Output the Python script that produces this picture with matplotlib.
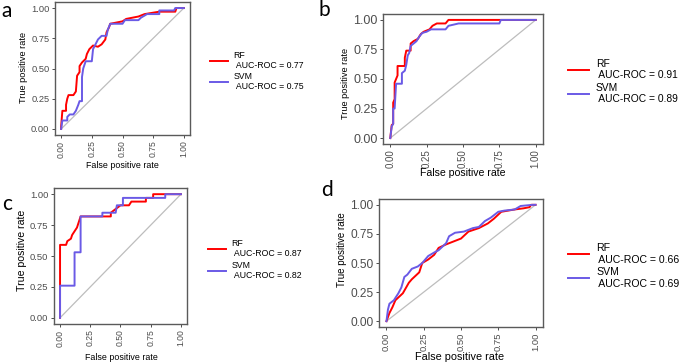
import matplotlib
matplotlib.use("Agg")
import matplotlib.pyplot as plt

plt.rcParams['font.family'] = ['Liberation Sans', 'DejaVu Sans']

RED = '#ff0000'
BLUE = '#6a5ae6'

# ROC curve points (fpr, tpr)
a_rf_fpr = [0, 0.0, 0.01, 0.04, 0.04, 0.05, 0.06, 0.10, 0.12, 0.13, 0.15, 0.15, 0.17, 0.20, 0.21, 0.23, 0.26, 0.30, 0.33, 0.36, 0.37, 0.39, 0.40, 0.50, 0.53, 0.63, 0.68, 0.80, 0.93, 0.94, 1.0]
a_rf_tpr = [0, 0.02, 0.15, 0.15, 0.20, 0.25, 0.28, 0.28, 0.31, 0.44, 0.47, 0.52, 0.55, 0.58, 0.62, 0.66, 0.69, 0.68, 0.70, 0.74, 0.80, 0.84, 0.87, 0.89, 0.91, 0.93, 0.95, 0.97, 0.97, 1.0, 1.0]
a_svm_fpr = [0, 0.01, 0.05, 0.05, 0.07, 0.10, 0.12, 0.14, 0.15, 0.17, 0.17, 0.18, 0.20, 0.25, 0.26, 0.28, 0.30, 0.33, 0.37, 0.38, 0.40, 0.50, 0.52, 0.63, 0.65, 0.70, 0.80, 0.80, 0.92, 0.93, 1.0]
a_svm_tpr = [0, 0.07, 0.07, 0.10, 0.12, 0.12, 0.15, 0.20, 0.23, 0.23, 0.43, 0.50, 0.56, 0.56, 0.66, 0.70, 0.74, 0.77, 0.77, 0.82, 0.87, 0.87, 0.90, 0.90, 0.92, 0.95, 0.95, 0.98, 0.98, 1.0, 1.0]

b_rf_fpr = [0, 0.01, 0.02, 0.02, 0.03, 0.03, 0.05, 0.05, 0.10, 0.10, 0.11, 0.14, 0.14, 0.16, 0.19, 0.21, 0.23, 0.27, 0.29, 0.32, 0.38, 0.40, 1.0]
b_rf_tpr = [0, 0.11, 0.12, 0.30, 0.33, 0.47, 0.53, 0.61, 0.61, 0.68, 0.74, 0.74, 0.80, 0.82, 0.84, 0.88, 0.90, 0.92, 0.95, 0.97, 0.97, 1.0, 1.0]
b_svm_fpr = [0, 0.01, 0.02, 0.02, 0.03, 0.04, 0.08, 0.08, 0.10, 0.11, 0.12, 0.13, 0.14, 0.16, 0.18, 0.20, 0.22, 0.25, 0.28, 0.38, 0.40, 0.47, 0.75, 0.76, 1.0]
b_svm_tpr = [0, 0.10, 0.12, 0.25, 0.25, 0.46, 0.46, 0.55, 0.57, 0.62, 0.70, 0.72, 0.78, 0.80, 0.82, 0.86, 0.89, 0.90, 0.92, 0.92, 0.95, 0.97, 0.97, 1.0, 1.0]

c_rf_fpr = [0, 0, 0.05, 0.06, 0.09, 0.10, 0.12, 0.14, 0.17, 0.37, 0.42, 0.42, 0.46, 0.50, 0.57, 0.59, 0.71, 0.71, 0.77, 0.77, 1.0]
c_rf_tpr = [0, 0.59, 0.59, 0.62, 0.64, 0.67, 0.70, 0.73, 0.82, 0.82, 0.82, 0.85, 0.88, 0.91, 0.91, 0.94, 0.94, 0.97, 0.97, 1.0, 1.0]
c_svm_fpr = [0, 0, 0.12, 0.12, 0.17, 0.17, 0.35, 0.35, 0.46, 0.47, 0.52, 0.52, 0.87, 0.87, 1.0]
c_svm_tpr = [0, 0.26, 0.26, 0.53, 0.53, 0.82, 0.82, 0.85, 0.85, 0.91, 0.91, 0.97, 0.97, 1.0, 1.0]

d_rf_fpr = [0, 0.02, 0.04, 0.06, 0.11, 0.15, 0.17, 0.22, 0.24, 0.28, 0.32, 0.35, 0.40, 0.44, 0.50, 0.55, 0.62, 0.68, 0.72, 0.77, 0.86, 0.92, 0.96, 0.97, 1.0]
d_rf_tpr = [0, 0.07, 0.12, 0.18, 0.24, 0.33, 0.36, 0.42, 0.50, 0.53, 0.57, 0.63, 0.66, 0.68, 0.71, 0.77, 0.80, 0.84, 0.88, 0.94, 0.96, 0.97, 0.98, 1.0, 1.0]
d_svm_fpr = [0, 0.01, 0.02, 0.05, 0.08, 0.10, 0.12, 0.14, 0.17, 0.21, 0.24, 0.28, 0.32, 0.35, 0.40, 0.42, 0.46, 0.52, 0.58, 0.62, 0.66, 0.70, 0.75, 0.79, 0.86, 0.90, 0.98, 1.0]
d_svm_tpr = [0, 0.10, 0.15, 0.18, 0.24, 0.29, 0.38, 0.40, 0.45, 0.47, 0.50, 0.56, 0.59, 0.61, 0.67, 0.73, 0.76, 0.77, 0.80, 0.81, 0.86, 0.89, 0.94, 0.95, 0.96, 0.99, 1.0, 1.0]

auc_rf = [0.77, 0.91, 0.87, 0.66]
auc_svm = [0.75, 0.89, 0.82, 0.69]
panel_names = ['a', 'b', 'c', 'd']
ticks = [0, 0.25, 0.5, 0.75, 1.0]
tick_labels = ['0.00', '0.25', '0.50', '0.75', '1.00']

W, H = 685, 364
fig = plt.figure(figsize=(6.85, 3.64), dpi=100)

def px_axes(l, t, r, b):
    return fig.add_axes([l / W, 1 - b / H, (r - l) / W, (b - t) / H])

# layout per panel: axes box (l, t, r, b) in px, font sizes, label centres, legend anchor
panels = [
    dict(box=(55, 2, 190, 135), ytk=6.7, xtk=6.2, yl=6.6, xl=6.4, ylc=(23, 67), xlc=(122, 166),
         leg=(210, 71), legfs=6.3, letter=(7, 11)),
    dict(box=(383, 14, 543, 144), ytk=9.0, xtk=7.0, yl=6.6, xl=7.6, ylc=(345, 83), xlc=(463, 173),
         leg=(568, 81.5), legfs=7.4, letter=(324, 10)),
    dict(box=(54, 188, 187, 324), ytk=6.8, xtk=6.2, yl=7.6, xl=6.4, ylc=(22, 250), xlc=(121, 357),
         leg=(208, 259.5), legfs=6.3, letter=(7, 204)),
    dict(box=(379, 199, 543, 327), ytk=8.6, xtk=6.8, yl=7.0, xl=7.8, ylc=(342, 250), xlc=(460, 357),
         leg=(568, 266), legfs=7.6, letter=(327, 190)),
]
curves = [
    (a_rf_fpr, a_rf_tpr, a_svm_fpr, a_svm_tpr),
    (b_rf_fpr, b_rf_tpr, b_svm_fpr, b_svm_tpr),
    (c_rf_fpr, c_rf_tpr, c_svm_fpr, c_svm_tpr),
    (d_rf_fpr, d_rf_tpr, d_svm_fpr, d_svm_tpr),
]

for i, p in enumerate(panels):
    ax = px_axes(*p['box'])
    rf_x, rf_y, svm_x, svm_y = curves[i]
    ax.plot([0, 1], [0, 1], color='#bdbdbd', lw=0.9, zorder=1)
    ax.plot(rf_x, rf_y, color=RED, lw=1.4, zorder=2,
            label='RF\n AUC-ROC = %.2f' % auc_rf[i])
    ax.plot(svm_x, svm_y, color=BLUE, lw=1.4, zorder=3,
            label='SVM\n AUC-ROC = %.2f' % auc_svm[i])
    ax.set_xlim(-0.05, 1.05)
    ax.set_ylim(-0.05, 1.05)
    ax.set_xticks(ticks)
    ax.set_yticks(ticks)
    ax.set_xticklabels(tick_labels, rotation=90, fontsize=p['xtk'], color='#4d4d4d')
    ax.set_yticklabels(tick_labels, fontsize=p['ytk'], color='#4d4d4d')
    ax.tick_params(length=2.5, width=0.7, color='#4d4d4d', pad=1.5)
    for s in ax.spines.values():
        s.set_color('#5a5a5a')
        s.set_linewidth(1.0)

    l, t, r, b = p['box']
    ax.set_ylabel('True positive rate', fontsize=p['yl'], va='center')
    ax.yaxis.set_label_coords((p['ylc'][0] - l) / (r - l), (b - p['ylc'][1]) / (b - t))
    ax.set_xlabel('False positive rate', fontsize=p['xl'], va='center')
    ax.xaxis.set_label_coords((p['xlc'][0] - l) / (r - l), (b - p['xlc'][1]) / (b - t))

    lx, ly = p['leg']
    ax.legend(loc='center left', bbox_to_anchor=(lx / W, 1 - ly / H), bbox_transform=fig.transFigure,
              frameon=False, fontsize=p['legfs'], handlelength=2.0, handletextpad=0.7,
              labelspacing=0.25, borderpad=0, borderaxespad=0)

    fig.text(p['letter'][0] / W, 1 - p['letter'][1] / H, panel_names[i],
             fontsize=15, family='Lato', ha='center', va='center')

fig.savefig('out.png', dpi=100)
